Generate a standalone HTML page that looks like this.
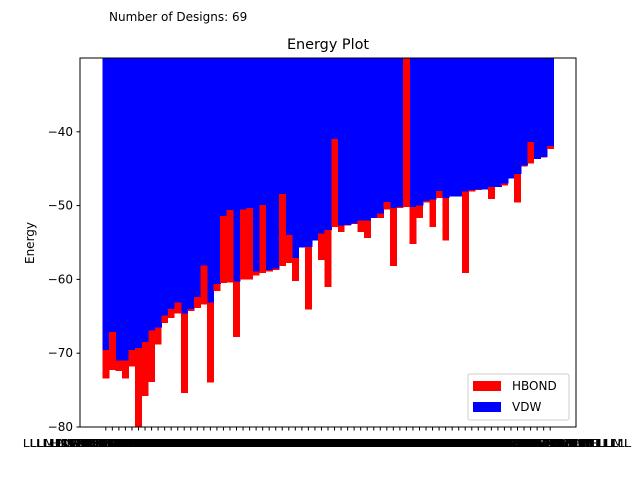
<!DOCTYPE html>
<html><head><meta charset="utf-8"><style>
body{margin:0;background:#fff;}
svg{display:block;font-family:"DejaVu Sans","Liberation Sans",sans-serif;}
</style></head><body>
<svg id="chart" width="640" height="480" viewBox="0 0 640 480">
<defs><clipPath id="pc"><rect x="80" y="58" width="496" height="369"/></clipPath></defs>
<text x="109" y="21" font-size="12">Number of Designs: 69</text>
<text x="328" y="49" font-size="14.4" text-anchor="middle">Energy Plot</text>
<text transform="translate(34,243) rotate(-90)" font-size="12" text-anchor="middle">Energy</text>
<g id="bars" clip-path="url(#pc)" shape-rendering="crispEdges"></g>
<g id="axes"></g>
<rect x="80" y="58" width="496" height="369" fill="none" stroke="#000" stroke-width="1"/>
<g>
<rect x="468" y="374" width="101" height="46" rx="2" fill="#fff" fill-opacity="0.8" stroke="#ccc"/>
<rect x="473" y="381" width="28" height="10" fill="#f00"/>
<text x="512" y="390" font-size="12">HBOND</text>
<rect x="473" y="402" width="28" height="10" fill="#00f"/>
<text x="512" y="411" font-size="12">VDW</text>
</g>
</svg>
<script>
const vdw=[-69.6,-67.1,-71.0,-71.0,-69.6,-69.3,-68.5,-66.9,-66.5,-64.9,-64.0,-63.1,-64.6,-64.0,-62.4,-58.1,-63.1,-60.6,-51.4,-50.6,-60.3,-50.5,-50.3,-58.9,-49.9,-58.7,-58.5,-48.4,-54.0,-57.1,-55.7,-55.6,-54.7,-53.8,-53.3,-41.0,-52.7,-52.6,-52.4,-52.0,-52.0,-51.7,-51.1,-49.5,-50.3,-50.2,-50.2,-50.2,-50.0,-49.4,-49.2,-48.0,-49.0,-48.8,-48.8,-48.1,-47.9,-47.8,-47.8,-47.5,-47.5,-47.0,-46.3,-45.7,-44.6,-41.4,-43.7,-43.4,-41.9];
const hbond=[-3.8,-5.2,-1.4,-2.4,-2.2,-11,-7.3,-7.0,-2.3,-1.0,-1.2,-1.5,-10.8,-0.3,-1.5,-5.3,-10.9,-1.0,-9.1,-9.8,-7.5,-9.5,-9.7,-0.6,-9.2,-0.2,-0.2,-9.8,-3.8,-3.1,0,-8.5,0,-3.6,-7.7,-11.9,-0.9,-0.1,-0.1,-1.6,-2.4,0,-0.6,-1.0,-7.9,-0.1,25,-5.0,-1.7,-0.2,-3.7,-1.0,-5.7,0,0,-11.0,-0.2,-0.1,0,-1.6,0,-0.3,0,-3.9,-0.1,-2.9,0,-0.1,-0.4];
const yTicks=[-40,-50,-60,-70,-80];
const NS='http://www.w3.org/2000/svg';
const n=vdw.length;
const xMin=-0.5-0.05*n, xMax=n-0.5+0.05*n;
const X=v=>80+(v-xMin)/(xMax-xMin)*496;
const Y=v=>58+(-30-v)/50*369;
const bars=document.getElementById('bars'), axes=document.getElementById('axes');
function mk(tag,attrs,parent){const e=document.createElementNS(NS,tag);for(const k in attrs)e.setAttribute(k,attrs[k]);parent.appendChild(e);return e;}
for(let i=0;i<n;i++){
  const x0=X(i-0.5), w=X(i+0.5)-x0;
  const b=mk('rect',{x:x0,y:Y(0),width:w+0.6,height:Y(vdw[i])-Y(0),fill:'#00f'},bars);
  
  
}
for(let i=0;i<n;i++){
  const x0=X(i-0.5), w=X(i+0.5)-x0;
  const a=vdw[i], c=vdw[i]+hbond[i];
  const r=mk('rect',{x:x0,y:Y(Math.max(a,c)),width:w+0.3,height:Math.abs(Y(c)-Y(a)),fill:'#f00'},bars);
  
  
}
yTicks.forEach(t=>{
  const y=Y(t);
  const l=mk('line',{x1:76.5,x2:80,y1:y,y2:y,stroke:'#000'},axes);
  
  
  const tx=mk('text',{x:73,y:y+4,'font-size':12,'text-anchor':'end'},axes);
  tx.textContent='\u2212'+Math.abs(t);
  
  
});
const names='LLLMHNWRKEDSATVILHFLLLMHNWRKEDS';
for(let i=0;i<n;i++){
  const x=X(i);
  const l=mk('line',{x1:x,x2:x,y1:427,y2:430.5,stroke:'#000'},axes);
  
  
  const tx=mk('text',{x:x-83,y:447,'font-size':11,textLength:164,lengthAdjust:'spacingAndGlyphs'},axes);
  tx.textContent=names.slice(0,3)+names.slice(3+(i%8),3+(i%8)+16)+'L';
  
  
}
</script>
</body></html>
